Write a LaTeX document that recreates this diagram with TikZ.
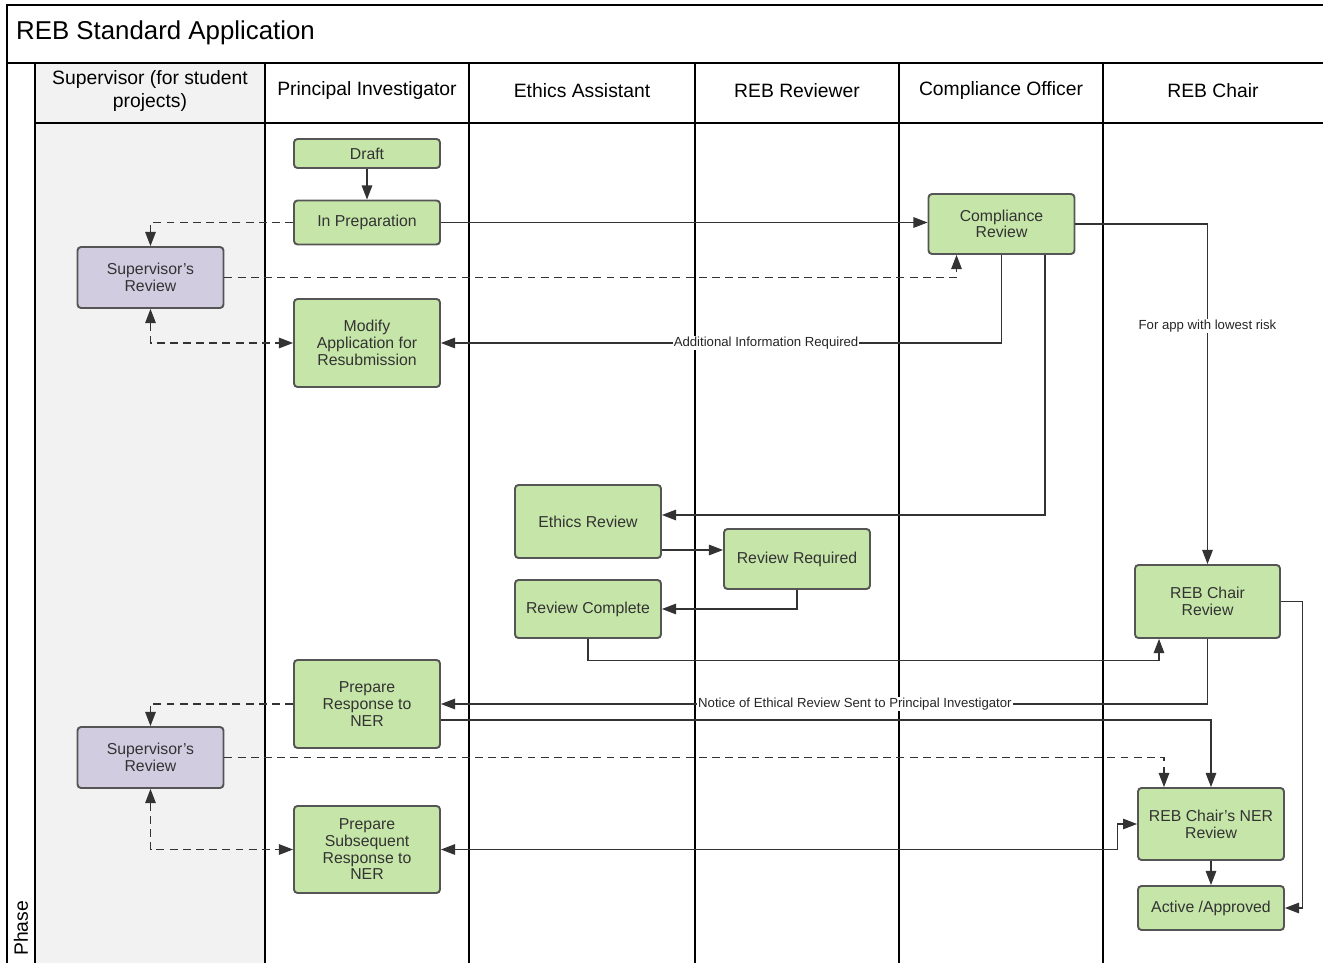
\documentclass[tikz,border=0pt]{standalone}
\usepackage{xcolor}
\usepackage{fontspec}
\setmainfont{Liberation Sans}
\usepackage{tikz}
\usetikzlibrary{arrows.meta}

\definecolor{taskgreen}{HTML}{C6E6A9}
\definecolor{supviolet}{HTML}{D2CCE1}
\definecolor{laneshade}{HTML}{F2F2F2}
\definecolor{edgegray}{HTML}{555555}
\definecolor{tasktext}{HTML}{333333}

\begin{document}
\begin{tikzpicture}[x=0.02cm, y=-0.02cm,
  >={Triangle[length=8pt,width=6pt]},
  task/.style={rectangle, rounded corners=2pt, draw=edgegray, line width=1.1pt, fill=taskgreen, text=tasktext, align=center, font=\fontsize{9}{9.5}\selectfont, minimum width=2.92cm, inner sep=1pt},
  suptask/.style={task, fill=supviolet},
  lane/.style={draw=black, line width=0.6pt},
  flow/.style={draw=black!80, line width=0.6pt},
  supflow/.style={flow, dash pattern=on 4.5pt off 3pt},
  flowlabel/.style={fill=white, inner sep=0.5pt, text=black!85, font=\fontsize{7.5}{8}\selectfont},
  head/.style={align=center, font=\fontsize{11}{13}\selectfont}]
\useasboundingbox (0,0) rectangle (1323,963);

% pool and lanes
\fill[laneshade] (35,63) rectangle (265,963);
\draw[lane] (7,963) -- (7,5) -- (1323,5);
\draw[lane] (7,63) -- (1323,63);
\draw[lane] (35,123) -- (1323,123);
\foreach \x in {35,265,469,695,899,1103}
  \draw[lane] (\x,63) -- (\x,963);

\node (title) [anchor=west, font=\fontsize{14.7}{17}\selectfont] at (10,33) {REB Standard Application};
\node (phase) [rotate=90, anchor=west, font=\fontsize{11}{13}\selectfont] at (21,962) {Phase};

\node (hsup) [head] at (150,91) {Supervisor (for student\\projects)};
\node (hpi) [head] at (367,91) {Principal Investigator};
\node (hea) [head] at (582,91) {Ethics Assistant};
\node (hrev) [head] at (797,91) {REB Reviewer};
\node (hcomp) [head] at (1001,91) {Compliance Officer};
\node (hchair) [head] at (1213,91) {REB Chair};

% tasks
\node (draft) [task, minimum height=0.58cm] at (367,153.5) {Draft};
\node (prep) [task, minimum height=0.88cm] at (367,222.5) {In Preparation};
\node (sup1) [suptask, minimum height=1.22cm] at (150.5,277.5) {Supervisor's\\Review};
\node (modify) [task, minimum height=1.76cm] at (367,343) {Modify\\Application for\\Resubmission};
\node (comp) [task, minimum height=1.2cm] at (1001.5,224) {Compliance\\Review};
\node (ethics) [task, minimum height=1.46cm] at (588,521.5) {Ethics Review};
\node (revreq) [task, minimum height=1.2cm] at (797,559) {Review Required};
\node (revdone) [task, minimum height=1.16cm] at (588,609) {Review Complete};
\node (chair) [task, minimum height=1.46cm, minimum width=2.9cm] at (1207.5,601.5) {REB Chair\\Review};
\node (ner) [task, minimum height=1.76cm] at (367,704) {Prepare\\Response to\\NER};
\node (sup2) [suptask, minimum height=1.22cm] at (150.5,757.5) {Supervisor's\\Review};
\node (subseq) [task, minimum height=1.74cm] at (367,849.5) {Prepare\\Subsequent\\Response to\\NER};
\node (nerrev) [task, minimum height=1.44cm] at (1211,824) {REB Chair's NER\\Review};
\node (active) [task, minimum height=0.88cm] at (1211,908) {Active /Approved};

\coordinate (ethicsout) at ([yshift=-0.57cm]ethics.east);
\coordinate (nerout) at ([yshift=-0.32cm]ner.east);

% flows
\draw[flow, ->] (draft) -- (prep);
\draw[flow, ->] (prep.east) -- (prep.east -| comp.west);
\draw[supflow, ->] (prep.west) -| (sup1.north);
\draw[supflow, ->] (sup1.east) -| ([xshift=-0.9cm]comp.south);
\draw[supflow, <->] (sup1.south) |- (modify.west);
\draw[flow, ->] (comp.south) |- node[flowlabel, pos=0.71] {Additional Information Required} (modify.east);
\draw[flow, ->] ([xshift=0.87cm]comp.south) |- ([yshift=0.13cm]ethics.east);
\draw[flow, ->] (comp.east) -| node[flowlabel, pos=0.65] {For app with lowest risk} (chair.north);
\draw[flow, ->] (ethicsout) -- (ethicsout -| revreq.west);
\draw[flow, ->] (revreq.south) |- (revdone.east);
\draw[flow, ->] (revdone.south) -- ++(0,22) -| ([xshift=-0.97cm]chair.south);
\draw[flow, ->] (chair.south) |- node[flowlabel, pos=0.73] {Notice of Ethical Review Sent to Principal Investigator} (ner.east);
\draw[flow, ->] (nerout) -| (nerrev.north);
\draw[supflow, ->] (ner.west) -| (sup2.north);
\draw[supflow, ->] (sup2.east) -| ([xshift=-0.94cm]nerrev.north);
\draw[supflow, <->] (sup2.south) |- (subseq.west);
\draw[flow, <->] (subseq.east) -- ++(677,0) |- (nerrev.west);
\draw[flow, ->] (nerrev) -- (active);
\draw[flow, ->] (chair.east) -- ++(22,0) |- (active.east);
\end{tikzpicture}
\end{document}
